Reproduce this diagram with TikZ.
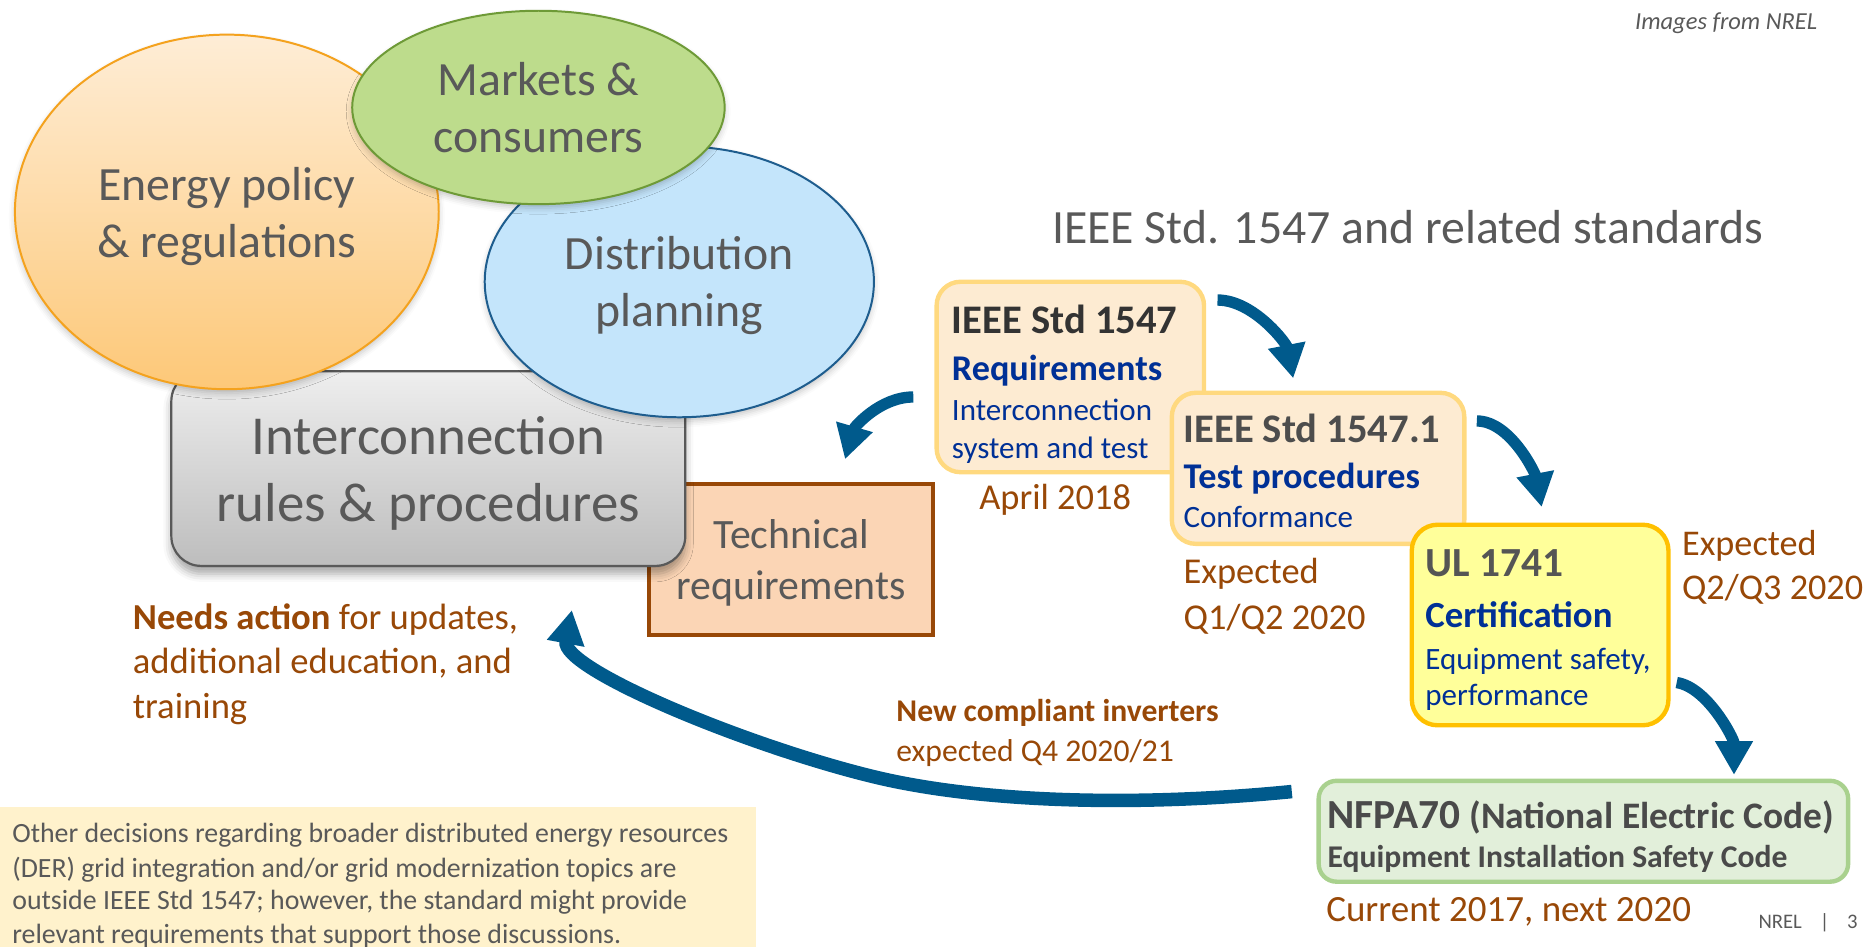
\documentclass[tikz,border=0pt]{standalone}
\usepackage{fontspec}
\setmainfont{Carlito}
\usetikzlibrary{arrows.meta,shapes.geometric,shadows.blur}

\definecolor{txtgray}{HTML}{595959}
\definecolor{brownc}{RGB}{152,72,7}
\definecolor{bluet}{RGB}{0,48,150}
\definecolor{arrblue}{RGB}{0,90,140}
\definecolor{orgtop}{HTML}{FEEDD6}
\definecolor{orgbot}{HTML}{FDC878}
\definecolor{orgline}{HTML}{F4A21E}
\definecolor{grnfill}{HTML}{BDDC8C}
\definecolor{grnline}{HTML}{6E9A37}
\definecolor{blufill}{HTML}{C4E5FB}
\definecolor{bluline}{HTML}{1E5D8E}
\definecolor{graytop}{HTML}{EEEEEE}
\definecolor{graybot}{HTML}{BDBDBD}
\definecolor{grayline}{HTML}{595959}
\definecolor{techfill}{HTML}{FBD5B5}
\definecolor{stdfill}{HTML}{FDEBD2}
\definecolor{stdline}{HTML}{FFD97F}
\definecolor{ulfill}{HTML}{FFFF9A}
\definecolor{ulline}{HTML}{FFC000}
\definecolor{nffill}{HTML}{E2EFDA}
\definecolor{nfline}{HTML}{A9D18E}
\definecolor{notefill}{HTML}{FFF2CC}
\definecolor{hdone}{HTML}{333333}
\definecolor{hdtwo}{HTML}{4D4D4D}
\definecolor{hdthree}{HTML}{555555}
\definecolor{hdfour}{HTML}{4A4A4A}

\newcommand{\fs}[2]{\fontsize{#1}{#2}\selectfont}

\begin{document}
\begin{tikzpicture}[x=0.6pt,y=-0.6pt,
  bubble/.style={ellipse, inner sep=0pt, line width=1pt,
     blur shadow={shadow xshift=0pt, shadow yshift=-2pt, shadow blur radius=3pt, shadow opacity=22}},
  bubtxt/.style={inner sep=0pt, text=txtgray, align=center, font=\fs{24pt}{28.8pt}},
  stdbox/.style={rectangle, rounded corners=12pt, draw=stdline, fill=stdfill, line width=2.2pt, inner sep=0pt},
  lbl/.style={inner sep=0pt, anchor=base west},
  arr/.style={draw=arrblue, line width=5.7pt, -{Triangle[width=18pt,length=17pt]}},
  bigarr/.style={arr, line width=6.8pt}
]
\useasboundingbox (0,0) rectangle (1568,793);

% note box
\node[rectangle, fill=notefill, inner sep=0pt, minimum width=379.8pt, minimum height=76pt, anchor=north west] (note) at (0,676) {};
\node[lbl, font=\fs{14pt}{17pt}, text=txtgray] (n1) at (10,706) {Other decisions regarding broader distributed energy resources};
\node[lbl, font=\fs{14pt}{17pt}, text=txtgray] (n2) at (10,734.6) {(DER) grid integration and/or grid modernization topics are};
\node[lbl, font=\fs{14pt}{17pt}, text=txtgray] (n3) at (10,762) {outside IEEE Std 1547; however, the standard might provide};
\node[lbl, font=\fs{14pt}{17pt}, text=txtgray] (n4) at (10,790) {relevant requirements that support those discussions.};

% technical requirements box
\node[rectangle, draw=brownc, fill=techfill, line width=2pt, inner sep=0pt,
      minimum width=142.5pt, minimum height=75.6pt] (tech) at (662.75,468.5) {};
\node[inner sep=0pt, text=txtgray, align=center, font=\fs{21pt}{25.2pt}]
      (techT) at ([yshift=-1.8pt]tech.center) {Technical\\requirements};

% interconnection box
\node[rectangle, rounded corners=15pt, draw=grayline, line width=1.1pt, top color=graytop, bottom color=graybot,
      minimum width=258.3pt, minimum height=97.8pt, inner sep=0pt,
      blur shadow={shadow xshift=0pt, shadow yshift=-4pt, shadow blur radius=4pt, shadow opacity=35}]
      (inter) at (358.75,392.5) {};
\node[inner sep=0pt, text=txtgray, align=center, font=\fs{27.6pt}{33.6pt}]
      (interT) at ([yshift=-2.4pt]inter.center) {Interconnection\\rules \& procedures};

% ellipses
\node[bubble, draw=orgline, top color=orgtop, bottom color=orgbot, minimum width=213pt, minimum height=178.2pt]
  (energy) at (190,177.5) {};
\node[bubtxt] (energyT) at ([yshift=-2.4pt]energy.center) {Energy policy\\\& regulations};
\node[bubble, draw=bluline, fill=blufill, minimum width=195.6pt, minimum height=136.2pt]
  (dist) at (569,236) {};
\node[bubtxt] (distT) at ([yshift=-2pt]dist.center) {Distribution\\planning};
\node[bubble, draw=grnline, fill=grnfill, minimum width=187.2pt, minimum height=97.2pt]
  (markets) at (451,90) {};
\node[bubtxt] (marketsT) at (markets.center) {Markets \&\\consumers};

% header texts
\node[inner sep=0pt, anchor=base east, font=\itshape\fs{12.3pt}{15pt}, text=txtgray] (src) at (1522.4,25) {Images from NREL};
\node[lbl, font=\fs{24pt}{28.8pt}, text=txtgray] (title) at (881,204) {IEEE Std. 1547 and related standards};

% IEEE Std 1547 box
\node[stdbox, minimum width=134.4pt, minimum height=95.7pt] (b1) at (896.5,315.75) {};
\node[lbl, font=\bfseries\fs{20.4pt}{24pt}, text=hdone] (b1t) at (797,279) {IEEE Std 1547};
\node[lbl, font=\bfseries\fs{18.2pt}{22pt}, text=bluet] (b1s) at (797,318.5) {Requirements};
\node[lbl, font=\fs{15.6pt}{19pt}, text=bluet] (b1a) at (797,352) {Interconnection};
\node[lbl, font=\fs{15.6pt}{19pt}, text=bluet] (b1b) at (797,384) {system and test};
\node[lbl, font=\fs{18.3pt}{22pt}, text=brownc] (d1) at (820,427) {April 2018};

% IEEE Std 1547.1 box
\node[stdbox, minimum width=147pt, minimum height=75.9pt] (b2) at (1104,392.25) {};
\node[lbl, font=\bfseries\fs{20.4pt}{24pt}, text=hdtwo] (b2t) at (991,371) {IEEE Std 1547.1};
\node[lbl, font=\bfseries\fs{18.2pt}{22pt}, text=bluet] (b2s) at (991,409) {Test procedures};
\node[lbl, font=\fs{15.6pt}{19pt}, text=bluet] (b2a) at (991,442) {Conformance};
\node[lbl, font=\fs{18.3pt}{22pt}, text=brownc] (d2a) at (991,489) {Expected};
\node[lbl, font=\fs{18.3pt}{22pt}, text=brownc] (d2b) at (991,527.5) {Q1/Q2 2020};

% UL 1741 box
\node[rectangle, rounded corners=13pt, draw=ulline, fill=ulfill, line width=2.2pt, inner sep=0pt,
      minimum width=129pt, minimum height=100.8pt] (ul) at (1290,523.5) {};
\node[lbl, font=\bfseries\fs{20.8pt}{24pt}, text=hdthree] (ult) at (1193.6,483) {UL 1741};
\node[lbl, font=\bfseries\fs{18.5pt}{22pt}, text=bluet] (uls) at (1193.6,526) {Certification};
\node[lbl, font=\fs{15.6pt}{19pt}, text=bluet] (ula) at (1193.6,561) {Equipment safety,};
\node[lbl, font=\fs{15.6pt}{19pt}, text=bluet] (ulb) at (1193.6,591) {performance};
\node[lbl, font=\fs{18.2pt}{22pt}, text=brownc] (d3a) at (1408.6,465) {Expected};
\node[lbl, font=\fs{18.2pt}{22pt}, text=brownc] (d3b) at (1408.6,502.5) {Q2/Q3 2020};

% NFPA box
\node[rectangle, rounded corners=9pt, draw=nfline, fill=nffill, line width=2.2pt, inner sep=0pt,
      minimum width=266.1pt, minimum height=50.7pt] (nfpa) at (1326.25,696.25) {};
\node[lbl, font=\bfseries, text=hdfour] (nft) at (1111.6,694) {\fs{20.8pt}{24pt}NFPA70 \fs{18.8pt}{22pt}(National Electric Code)};
\node[lbl, font=\bfseries\fs{15.9pt}{19pt}, text=hdfour] (nfs) at (1111.6,727) {Equipment Installation Safety Code};
\node[lbl, font=\fs{18.6pt}{22pt}, text=brownc] (d4) at (1110.6,772) {Current 2017, next 2020};
\node[lbl, font=\fs{10.4pt}{12pt}, text=txtgray] (foot) at (1472.6,777.6) {NREL\hspace{9pt}|\hspace{9pt}3};

% left action text
\node[lbl, font=\fs{18.4pt}{22pt}, text=brownc] (act1) at (111,527) {\textbf{Needs action} for updates,};
\node[lbl, font=\fs{18.4pt}{22pt}, text=brownc] (act2) at (111,564) {additional education, and};
\node[lbl, font=\fs{18.4pt}{22pt}, text=brownc] (act3) at (111,601.7) {training};

% inverter label
\node[lbl, font=\bfseries\fs{15.9pt}{19pt}, text=brownc] (inv1) at (750.5,604.5) {New compliant inverters};
\node[lbl, font=\fs{15.9pt}{19pt}, text=brownc] (inv2) at (750.5,638) {expected Q4 2020/21};

% arrows
\coordinate (aS) at (765,332.5);   \coordinate (aT) at (707.8,384.7);
\coordinate (bS) at (1019.8,251.3); \coordinate (bT) at (1083.2,316.9);
\coordinate (cS) at (1237,352.6);  \coordinate (cT) at (1291.3,424.7);
\coordinate (dS) at (1404.4,571.7); \coordinate (dT) at (1452.4,649);
\coordinate (eS) at (1082,663);    \coordinate (eM) at (731.5,650.5); \coordinate (eT) at (479,511);

\draw[arr] (aS) .. controls +(-28,0) and +(7.8,-26.9) .. (aT);
\draw[arr] (bS) .. controls +(30,0) and +(-5.8,-29.5) .. (bT);
\draw[arr] (cS) .. controls +(28,0) and +(-5.5,-28.5) .. (cT);
\draw[arr] (dS) .. controls +(26,4) and +(0,-30) .. (dT);
\draw[bigarr] (eS) .. controls +(-132,13) and +(88.5,21.5) .. (eM)
              .. controls +(-106.9,-26) and +(-9.2,49.2) .. (eT);
\end{tikzpicture}
\end{document}
